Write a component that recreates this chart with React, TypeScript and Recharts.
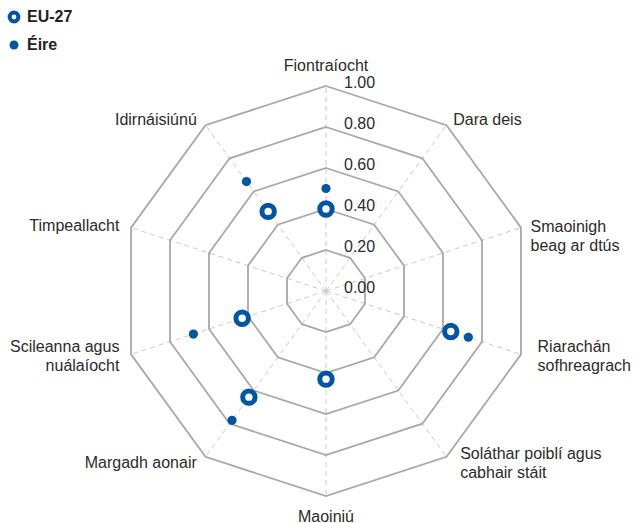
import { Legend, PolarAngleAxis, PolarGrid, PolarRadiusAxis, Radar, RadarChart } from "recharts";

const categories = [
  "Fiontraíocht",
  "Dara deis",
  "Smaoinigh\nbeag ar dtús",
  "Riarachán\nsofhreagrach",
  "Soláthar poiblí agus\ncabhair stáit",
  "Maoiniú",
  "Margadh aonair",
  "Scileanna agus\nnuálaíocht",
  "Timpeallacht",
  "Idirnáisiúnú",
];
const euValues = [0.4, null, null, 0.64, null, 0.43, 0.64, 0.43, null, 0.48];
const eireValues = [0.5, null, null, 0.73, null, null, 0.78, 0.68, null, 0.66];
const radiusTicks = [0, 0.2, 0.4, 0.6, 0.8, 1];

const BLUE = "#0055a5";
const FONT = "'Liberation Sans', Arial, sans-serif";
const CX = 326;
const CY = 291;
const R = 205;

const data = categories.map((name, i) => ({ name, eu: euValues[i], eire: eireValues[i] }));

function AngleTick(props: any) {
  const angle = props.payload.coordinate;
  const rad = (angle * Math.PI) / 180;
  const cos = Math.cos(rad);
  const sin = Math.sin(rad);
  const x = CX + (R + 8) * cos;
  const y = CY - (R + 8) * sin;
  const lines = String(props.payload.value).split("\n");
  const lh = 19;
  let anchor: "start" | "end" | "middle" = "middle";
  let dx = 0;
  if (cos > 0.01) {
    anchor = "start";
    dx = sin > 0 ? 2 : 9;
  } else if (cos < -0.01) {
    anchor = "end";
    dx = -4;
  }
  let top;
  if (sin > 0.99) top = y - 13 - (lines.length - 1) * lh;
  else if (sin < -0.99) top = y + 12;
  else if (sin > 0.1) top = y + (lines.length > 1 ? 1 : 0);
  else top = y - ((lines.length - 1) * lh) / 2 - 1;
  return (
    <text textAnchor={anchor} fontSize={16} fill="#2b2b2b" fontFamily={FONT} dominantBaseline="central">
      {lines.map((line, i) => (
        <tspan key={i} x={x + dx} y={top + i * lh}>
          {line}
        </tspan>
      ))}
    </text>
  );
}

function RadiusTick(props: any) {
  return (
    <text x={CX + 18} y={props.y - 4} fontSize={16} fill="#2b2b2b" fontFamily={FONT} dominantBaseline="central">
      {Number(props.payload.value).toFixed(2)}
    </text>
  );
}

function hasPoint(p: any) {
  const v = p.payload?.value ?? p.value;
  return v != null && Number.isFinite(p.cx) && Number.isFinite(p.cy);
}

function RingDot(p: any) {
  if (!hasPoint(p)) return null;
  return <circle cx={p.cx} cy={p.cy} r={6.2} fill="#fff" stroke={BLUE} strokeWidth={5} />;
}

function SolidDot(p: any) {
  if (!hasPoint(p)) return null;
  return <circle cx={p.cx} cy={p.cy} r={4.6} fill={BLUE} stroke="none" />;
}

function LegendBox() {
  return (
    <div style={{ fontFamily: FONT, fontSize: 16, fontWeight: 700, color: "#222" }}>
      <div style={{ display: "flex", alignItems: "center", height: 28 }}>
        <svg width={14} height={14} style={{ marginRight: 6 }}>
          <circle cx={7} cy={7} r={4.4} fill="#fff" stroke={BLUE} strokeWidth={4} />
        </svg>
        EU-27
      </div>
      <div style={{ display: "flex", alignItems: "center", height: 28 }}>
        <svg width={14} height={14} style={{ marginRight: 6 }}>
          <circle cx={7} cy={7} r={4.5} fill={BLUE} />
        </svg>
        Éire
      </div>
    </div>
  );
}

export default function App() {
  return (
    <div style={{ position: "absolute", left: 0, top: 0, width: 635, height: 523, background: "#fff" }}>
      <RadarChart width={635} height={523} data={data} cx={CX} cy={CY} outerRadius={R} margin={{ top: 0, right: 0, bottom: 0, left: 0 }}>
        <PolarGrid gridType="polygon" polarRadius={[]} stroke="#c9c9c9" strokeWidth={1} strokeDasharray="5 4" />
        <PolarGrid gridType="polygon" radialLines={false} stroke="#a8a8a8" strokeWidth={1.8} />
        <PolarAngleAxis dataKey="name" axisLine={false} tickLine={false} tick={<AngleTick />} />
        <PolarRadiusAxis
          angle={90}
          domain={[0, 1]}
          ticks={radiusTicks as any}
          tickCount={6}
          axisLine={false}
          tickLine={false}
          tick={<RadiusTick />}
        />
        <Radar name="EU-27" dataKey="eu" stroke="transparent" fill="transparent" dot={<RingDot />} isAnimationActive={false} />
        <Radar name="Éire" dataKey="eire" stroke="transparent" fill="transparent" dot={<SolidDot />} isAnimationActive={false} />
        <Legend
          content={<LegendBox />}
          wrapperStyle={{ position: "absolute", left: 7, top: 3, width: "auto", height: "auto" }}
        />
      </RadarChart>
    </div>
  );
}
